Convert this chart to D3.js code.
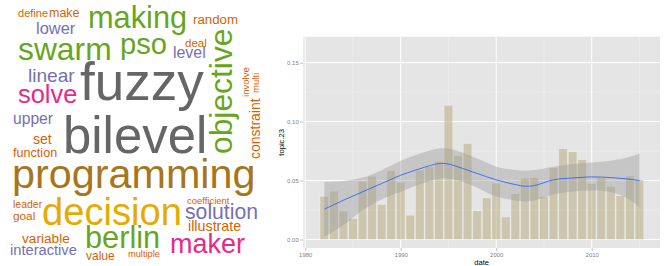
<!DOCTYPE html>
<html>
<head>
<meta charset="utf-8">
<script src="https://cdn.jsdelivr.net/npm/d3@7"></script>
<style>
  html, body { margin: 0; padding: 0; background: #fff; }
  svg { display: block; }
  .cloud text { font-family: "Liberation Sans", Arial, Helvetica, sans-serif; }
  .axis text { font-family: "Liberation Sans", Arial, sans-serif; font-size: 6px; fill: #7f7f7f; }
  .axis line { stroke: #7f7f7f; stroke-width: 0.5; }
  .title { font-family: "Liberation Sans", Arial, sans-serif; font-size: 7.6px; fill: #000; }
</style>
</head>
<body>
<svg id="fig" width="664" height="266"></svg>
<script>
'use strict';

// ---- word cloud: words and relative frequency
const words = ['fuzzy', 'bilevel', 'programming', 'decision', 'swarm', 'objective', 'making', 'berlin',
  'pso', 'maker', 'solve', 'solution', 'linear', 'lower', 'level', 'upper', 'interactive', 'illustrate',
  'set', 'constraint', 'variable', 'random', 'function', 'make', 'value', 'goal', 'deal', 'define',
  'leader', 'involve', 'coefficient', 'multi', 'multiple'];
const wordFreq = [100, 96, 78, 72, 60, 60, 58, 58, 55, 51, 48, 40, 36, 31, 30, 29.5, 27.7, 27, 26.4, 26.4,
  25.8, 25, 23.8, 23.6, 22.6, 22.3, 21.7, 20.8, 19.8, 18.1, 17.9, 17.9, 17.5];

// ---- topic.23 share per year
const years = [1982, 1983, 1984, 1985, 1986, 1987, 1988, 1989, 1990, 1991, 1992, 1993, 1994, 1995, 1996, 1997,
  1998, 1999, 2000, 2001, 2002, 2003, 2004, 2005, 2006, 2007, 2008, 2009, 2010, 2011, 2012, 2013, 2014, 2015];
const topicShare = [0.0367, 0.0410, 0.0243, 0.0178, 0.0494, 0.0537, 0.0297, 0.0585, 0.0486, 0.0206, 0.0588,
  0.0616, 0.0664, 0.1138, 0.0712, 0.0814, 0.0243, 0.0353, 0.0478, 0.0191, 0.0388, 0.0520, 0.0525, 0.0365,
  0.0610, 0.0770, 0.0744, 0.0677, 0.0475, 0.0522, 0.0450, 0.0371, 0.0539, 0.0508];

// loess fit + se band
const smoothYears = [1982, 1984, 1986, 1988, 1990, 1992, 1994, 1995, 1996, 1998, 2000, 2002, 2003, 2004, 2006,
  2008, 2010, 2012, 2014, 2015];
const smoothFit = [0.0257, 0.0333, 0.0404, 0.0475, 0.0545, 0.0600, 0.0644, 0.0640, 0.0616, 0.0560, 0.0506,
  0.0466, 0.0452, 0.0458, 0.0506, 0.0522, 0.0531, 0.0525, 0.0511, 0.0500];
const smoothUpper = [0.0489, 0.0497, 0.0525, 0.0588, 0.0667, 0.0729, 0.0771, 0.0772, 0.0751, 0.0686, 0.0618,
  0.0590, 0.0584, 0.0590, 0.0618, 0.0640, 0.0654, 0.0669, 0.0702, 0.0730];
const smoothLower = [0.0023, 0.0120, 0.0249, 0.0339, 0.0404, 0.0469, 0.0514, 0.0514, 0.0503, 0.0440, 0.0365,
  0.0331, 0.0323, 0.0331, 0.0382, 0.0407, 0.0416, 0.0402, 0.0337, 0.0270];

const xTicks = [1980, 1990, 2000, 2010];
const xMinor = [1985, 1995, 2005, 2015];
const yTicks = [0, 0.05, 0.10, 0.15];
const yMinor = [0.025, 0.075, 0.125];

// placement of each word (x, baseline y, rotation, colour group), same order as words
const cloudLayout = [
  [80, 100, 0, 'gray'], [63, 153, 0, 'gray'], [12, 188, 0, 'brown'], [42, 225, 0, 'gold'],
  [18, 60, 0, 'green'], [232, 154, -90, 'green'], [88, 28, 0, 'green'], [85, 248, 0, 'green'],
  [120, 54, 0, 'green'], [170, 253, 0, 'pink'], [18, 103, 0, 'pink'], [185, 219, 0, 'purple'],
  [28, 82, 0, 'purple'], [36, 34, 0, 'purple'], [173, 58, 0, 'purple'], [13, 124, 0, 'purple'],
  [10, 255, 0, 'purple'], [188, 231, 0, 'orange'], [33, 144, 0, 'orange'], [259.5, 159, -90, 'orange'],
  [22, 243, 0, 'orange'], [193, 24, 0, 'orange'], [13, 157, 0, 'orange'], [49, 17, 0, 'orange'],
  [86, 260, 0, 'orange'], [13, 220, 0, 'orange'], [185, 47, 0, 'orange'], [18, 17, 0, 'orange'],
  [13, 208, 0, 'orange'], [249, 97, -90, 'orange'], [187, 204, 0, 'orange'], [259, 93, -90, 'orange'],
  [128, 257, 0, 'orange']
];
const cloudColors = {
  gray: '#666666', brown: '#a6761d', gold: '#e6ab02', green: '#66a61e',
  pink: '#e7298a', purple: '#7570b3', orange: '#d95f02'
};

const svg = d3.select('#fig');

// ---------------- word cloud
let sizeScale = d3.scaleLinear().domain([0, 100]).range([0, 53]);
let cloud = svg.append('g').attr('class', 'cloud');
cloud.selectAll('text').data(words).enter().append('text')
  .attr('transform', (d, i) => {
    let [x, y, r] = cloudLayout[i];
    return `translate(${x},${y}) rotate(${r})`;
  })
  .style('font-size', (d, i) => `${sizeScale(wordFreq[i])}px`)
  .style('fill', (d, i) => cloudColors[cloudLayout[i][3]])
  .text(d => d);

// ---------------- bar chart
let panel = { left: 303.3, right: 660, top: 36.7, bottom: 248 };
let x = d3.scaleLinear().domain([1979.8, 2017.15]).range([panel.left, panel.right]);
let y = d3.scaleLinear().domain([-0.0072, 0.172]).range([panel.bottom, panel.top]);

let g = svg.append('g');
g.append('rect')
  .attr('x', panel.left).attr('y', panel.top)
  .attr('width', panel.right - panel.left).attr('height', panel.bottom - panel.top)
  .style('fill', '#e5e5e5');

// grid
g.selectAll('.gx-minor').data(xMinor).enter().append('line')
  .attr('x1', d => x(d)).attr('x2', d => x(d)).attr('y1', panel.top).attr('y2', panel.bottom)
  .style('stroke', '#f2f2f2').style('stroke-width', 0.5);
g.selectAll('.gy-minor').data(yMinor).enter().append('line')
  .attr('y1', d => y(d)).attr('y2', d => y(d)).attr('x1', panel.left).attr('x2', panel.right)
  .style('stroke', '#f2f2f2').style('stroke-width', 0.5);
g.selectAll('.gx').data(xTicks).enter().append('line')
  .attr('x1', d => x(d)).attr('x2', d => x(d)).attr('y1', panel.top).attr('y2', panel.bottom)
  .style('stroke', '#ffffff').style('stroke-width', 1);
g.selectAll('.gy').data(yTicks).enter().append('line')
  .attr('y1', d => y(d)).attr('y2', d => y(d)).attr('x1', panel.left).attr('x2', panel.right)
  .style('stroke', '#ffffff').style('stroke-width', 1);

// bars
g.selectAll('.bar').data(years).enter().append('rect')
  .attr('class', 'bar')
  .attr('x', d => x(d - 0.45))
  .attr('width', x(0.9) - x(0))
  .attr('y', (d, i) => y(topicShare[i]))
  .attr('height', (d, i) => y(0) - y(topicShare[i]))
  .style('fill', '#b5a77a')
  .style('fill-opacity', 0.5)
  .style('stroke', '#ffffff')
  .style('stroke-opacity', 0.45)
  .style('stroke-width', 0.6);

// se band + fit line
let band = d3.area()
  .x((d, i) => x(d))
  .y0((d, i) => y(smoothLower[i]))
  .y1((d, i) => y(smoothUpper[i]))
  .curve(d3.curveCatmullRom.alpha(0.5));
g.append('path').datum(smoothYears)
  .attr('d', band)
  .style('fill', '#999999')
  .style('fill-opacity', 0.4);

let line = d3.line()
  .x(d => x(d))
  .y((d, i) => y(smoothFit[i]))
  .curve(d3.curveCatmullRom.alpha(0.5));
g.append('path').datum(smoothYears)
  .attr('d', line)
  .style('fill', 'none')
  .style('stroke', '#3366ff')
  .style('stroke-width', 0.9);

// axes
let yAxis = g.append('g').attr('class', 'axis')
  .attr('transform', `translate(${panel.left},0)`)
  .call(d3.axisLeft(y).tickValues(yTicks).tickFormat(d3.format('.2f')).tickSize(3).tickPadding(1.5));
yAxis.select('.domain').remove();

let xAxis = g.append('g').attr('class', 'axis')
  .attr('transform', `translate(0,${panel.bottom})`)
  .call(d3.axisBottom(x).tickValues(xTicks).tickFormat(d3.format('d')).tickSize(3).tickPadding(2));
xAxis.select('.domain').remove();

g.append('text').attr('class', 'title')
  .attr('x', (panel.left + panel.right) / 2).attr('y', 265)
  .attr('text-anchor', 'middle')
  .text('date');
g.append('text').attr('class', 'title')
  .attr('transform', `translate(284,${(panel.top + panel.bottom) / 2}) rotate(-90)`)
  .attr('text-anchor', 'middle')
  .text('topic.23');
</script>
</body>
</html>
